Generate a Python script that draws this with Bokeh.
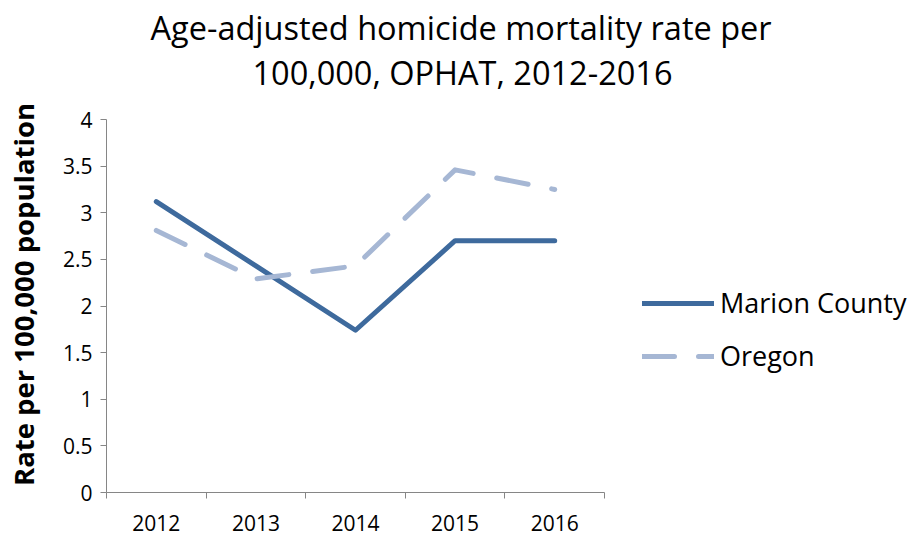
from bokeh.plotting import figure
from bokeh.models import LinearAxis, FixedTicker, Range1d, Legend, LegendItem, Title
from bokeh.embed import file_html
from bokeh.resources import INLINE

# ---- data ----
years = [2012, 2013, 2014, 2015, 2016]
year_labels = ["2012", "2013", "2014", "2015", "2016"]
marion = [3.12, 2.43, 1.74, 2.70, 2.70]
oregon = [2.81, 2.29, 2.43, 3.46, 3.25]
y_ticks = [0, 0.5, 1, 1.5, 2, 2.5, 3, 3.5, 4]
y_tick_labels = ["0", "0.5", "1", "1.5", "2", "2.5", "3", "3.5", "4"]
series_names = ["Marion County", "Oregon"]
title_lines = ["Age-adjusted homicide mortality rate per", "100,000, OPHAT, 2012-2016"]
y_label = "Rate per 100,000 population"

FONT = "Open Sans"
GRAY = "#868686"
C_MARION = "#3E6A9D"
C_OREGON = "#A6B7D4"

W, H = 917, 537
FL, FR, FT, FB = 106, 604, 96, 492   # frame (px)
Y_TOP_TICK = 119                     # pixel row of the top of the value axis
y_min, y_max = y_ticks[0], y_ticks[-1]

x0, x1 = years[0] - 0.5, years[-1] + 0.5
x_end = x0 + (x1 - x0) * (W - FL) / (FR - FL)   # frame extends right over the legend area
y_end = y_max + (y_max - y_min) * (Y_TOP_TICK - FT) / (FB - Y_TOP_TICK)

p = figure(width=W, height=H, output_backend="svg", toolbar_location=None,
           x_range=Range1d(x0, x_end), y_range=Range1d(y_min, y_end),
           x_axis_type=None, y_axis_type=None,
           min_border_left=FL, min_border_right=0, min_border_top=FT,
           min_border_bottom=H - FB)
p.outline_line_color = None
p.grid.visible = False
p.background_fill_color = "white"
p.border_fill_color = "white"

# y axis
yax = LinearAxis(ticker=FixedTicker(ticks=y_ticks), bounds=(y_min, y_max),
                 major_label_overrides={t: l for t, l in zip(y_ticks, y_tick_labels)})
yax.axis_line_color = GRAY
yax.major_tick_line_color = GRAY
yax.major_tick_out = 6
yax.major_tick_in = 0
yax.minor_tick_line_color = None
yax.major_label_standoff = 8
yax.major_label_text_font = FONT
yax.major_label_text_font_size = "21px"
yax.major_label_text_color = "black"
yax.axis_label = y_label
yax.axis_label_text_font = FONT
yax.axis_label_text_font_style = "bold"
yax.axis_label_text_font_size = "27.5px"
yax.axis_label_text_color = "black"
yax.axis_label_standoff = 18
p.add_layout(yax, "left")

# x axis: boundary ticks
bounds = [x0 + i for i in range(len(years) + 1)]
xax1 = LinearAxis(ticker=FixedTicker(ticks=bounds), bounds=(x0, x1),
                  major_label_overrides={b: "" for b in bounds})
xax1.axis_line_color = GRAY
xax1.major_tick_line_color = GRAY
xax1.major_tick_out = 6
xax1.major_tick_in = 0
xax1.minor_tick_line_color = None
xax1.major_label_standoff = 0
xax1.major_label_text_font_size = "1px"
p.add_layout(xax1, "below")

# x axis: category labels
xax2 = LinearAxis(ticker=FixedTicker(ticks=years),
                  major_label_overrides={y: l for y, l in zip(years, year_labels)})
xax2.axis_line_color = None
xax2.major_tick_line_color = None
xax2.major_tick_out = 0
xax2.major_tick_in = 0
xax2.minor_tick_line_color = None
xax2.major_label_standoff = 16
xax2.major_label_text_font = FONT
xax2.major_label_text_font_size = "21px"
xax2.major_label_text_color = "black"
p.add_layout(xax2, "below")

r1 = p.line(years, marion, line_color=C_MARION, line_width=5, line_cap="round", line_join="round")
r2 = p.line(years, oregon, line_color=C_OREGON, line_width=5, line_cap="round", line_join="round",
            line_dash="32 24")

legend = Legend(items=[LegendItem(label=series_names[0], renderers=[r1]),
                       LegendItem(label=series_names[1], renderers=[r2])],
                location=(536, 118))
legend.label_text_font = FONT
legend.label_text_font_size = "27px"
legend.label_text_color = "black"
legend.glyph_width = 72
legend.glyph_height = 30
legend.label_height = 30
legend.label_standoff = 6
legend.spacing = 16
legend.padding = 0
legend.margin = 0
legend.border_line_color = None
legend.background_fill_alpha = 0
p.add_layout(legend)

# title (two lines, second one nearest the frame)
t2 = Title(text=title_lines[1], align="left", offset=146, standoff=0, vertical_align="top",
           text_font=FONT, text_font_size="32.5px", text_font_style="normal", text_color="black")
t1 = Title(text=title_lines[0], align="left", offset=44, standoff=0, vertical_align="bottom",
           text_font=FONT, text_font_size="32.5px", text_font_style="normal", text_color="black")
p.add_layout(t2, "above")
p.add_layout(t1, "above")

open("out.html", "w").write(file_html(p, INLINE))
